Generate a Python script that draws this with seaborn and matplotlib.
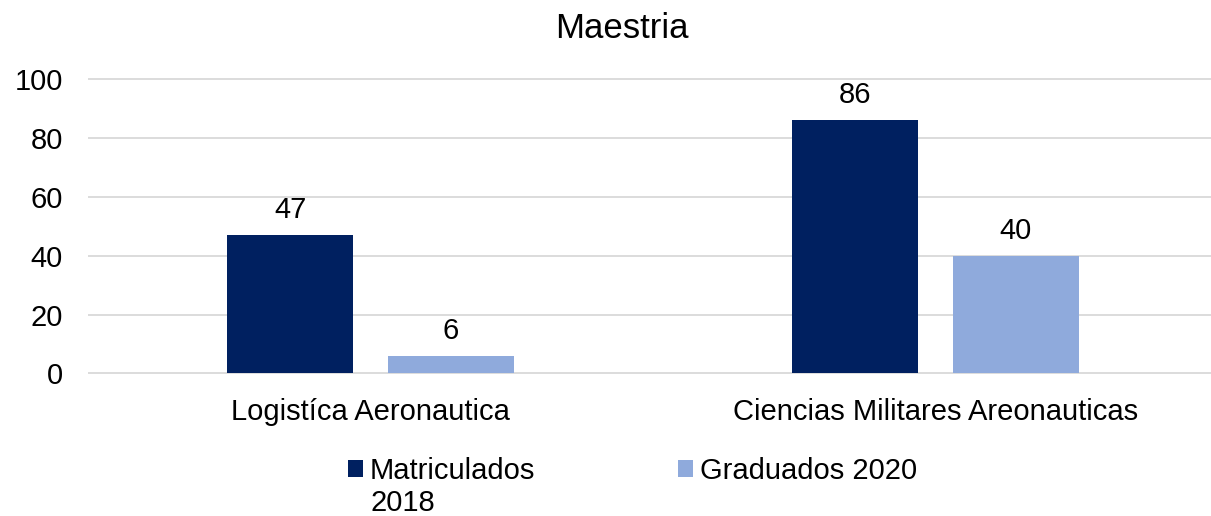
import pandas as pd
import seaborn as sns
import matplotlib.pyplot as plt
from matplotlib.patches import Patch

# data
programas = ['Logistíca Aeronautica', 'Ciencias Militares Areonauticas']
matriculados_2018 = [47, 86]
graduados_2020 = [6, 40]
series = ['Matriculados 2018', 'Graduados 2020']
colores = ['#002060', '#8FAADC']

df = pd.DataFrame({
    'Programa': programas * 2,
    'Serie': [series[0]] * 2 + [series[1]] * 2,
    'Valor': matriculados_2018 + graduados_2020,
})

sns.set_theme(style='white')
plt.rcParams['font.family'] = ['Liberation Sans', 'DejaVu Sans']
fs = 21

fig = plt.figure(figsize=(12.11, 5.16), dpi=100)
# axes placed in pixels: left 88, bottom edge y=374.8, top y=77.8
ax = fig.add_axes([88 / 1211, (516 - 374.8) / 516, 1 - 88 / 1211, (374.8 - 77.8) / 516])

sns.barplot(data=df, x='Programa', y='Valor', hue='Serie', palette=colores,
            width=0.569, gap=0.212, saturation=1, linewidth=0, ax=ax, legend=False)

for c in ax.containers:
    ax.bar_label(c, fmt='%g', padding=8, fontsize=fs, color='black')

ax.set_xlim(-0.5, -0.5 + 1123 / 565)
ax.set_ylim(-0.5, 100.5)
ax.set_yticks([0, 20, 40, 60, 80, 100])
ax.yaxis.grid(True, color='#D9D9D9', linewidth=1.3)
ax.set_axisbelow(True)
for s in ax.spines.values():
    s.set_visible(False)
ax.tick_params(axis='both', length=0, labelsize=fs, colors='black')
ax.tick_params(axis='y', pad=18)
ax.tick_params(axis='x', pad=17)
ax.set_xlabel('')
ax.set_ylabel('')

fig.text(622 / 1211, 1 - 28 / 516, 'Maestria', ha='center', va='center',
         fontsize=25, color='black')

# legend: first label wraps onto a second line like the original
handles = [Patch(facecolor=colores[0], linewidth=0), Patch(facecolor=colores[1], linewidth=0)]
leg = fig.legend(handles, ['Matriculados', series[1]], ncol=2,
                 loc='center left', bbox_to_anchor=(348 / 1211, 1 - 471 / 516),
                 frameon=False, fontsize=fs, labelcolor='black',
                 handlelength=0.5, handleheight=0.5, handletextpad=0.25,
                 columnspacing=4.9, borderaxespad=0, borderpad=0)
fig.text(370 / 1211, 1 - 503 / 516, '2018', ha='left', va='center',
         fontsize=fs, color='black')

fig.savefig('out.png', dpi=100)
